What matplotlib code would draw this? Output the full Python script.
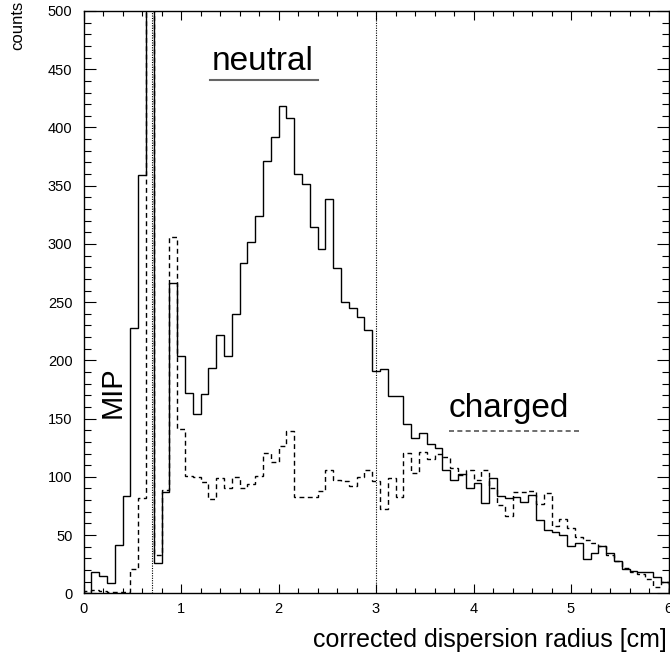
import numpy as np
import matplotlib
matplotlib.use("Agg")
import matplotlib.pyplot as plt
from matplotlib.ticker import MultipleLocator

plt.rcParams['font.family'] = ['Liberation Sans', 'DejaVu Sans']

# bin edges: 75 bins of width 0.08 cm from 0 to 6
bin_edges = np.linspace(0.0, 6.0, 76)

# neutral (solid) counts per bin
neutral = [
    0, 18.6, 14.8, 9.1, 41.5, 83.8, 227.5, 359, 1500, 25.7,
    86.7, 266.7, 203.8, 172.3, 153.7, 170.9, 193.7, 221.5, 203.8, 240.1,
    283.9, 301.6, 323.7, 371, 391.8, 418.4, 407.9, 359.8, 351.8, 314.5,
    295.9, 338.3, 279.6, 250, 244.7, 237, 226, 190.6, 192.6, 169.4,
    169.4, 145.4, 133.6, 137.4, 127.9, 124.5, 105.6, 97.6, 102.2, 90.1,
    94.4, 77.3, 98.7, 83.5, 81.5, 83, 78.4, 84.4, 62.9, 54,
    52.9, 50.3, 40.6, 42.9, 29.2, 34.3, 40.6, 34.3, 27.5, 21,
    19.4, 18.6, 18.6, 14.3, 9.3,
]

# charged (dashed) counts per bin
charged = [
    2, 3, 2, 1, 1, 1.4, 20.6, 81.5, 1200, 33,
    89, 305.7, 140.8, 101, 99.7, 95.9, 80.7, 98.7, 90.1, 100.2,
    90.1, 93.9, 101, 120.8, 112.5, 126.7, 139.6, 82.4, 82.4, 82.4,
    87.5, 105.9, 97.6, 96, 92, 100, 106, 96, 72, 98.7,
    82.7, 120.8, 103, 121.6, 115, 120, 116.8, 107.3, 101.6, 105.9,
    97, 105.9, 90, 75.8, 66.4, 87.3, 87.3, 88, 77, 86,
    58, 63.5, 55.8, 48, 45.5, 42.9, 40.7, 33, 28, 21.5,
    18.6, 17, 12, 5.5, 10,
]

cut_lines = [0.7, 3.0]

fig = plt.figure(figsize=(6.70, 6.58), dpi=100)
ax = fig.add_axes([83.5 / 670, 1 - 593.3 / 658, (668.5 - 83.5) / 670, (593.3 - 11) / 658])

ax.stairs(neutral, bin_edges, color='black', linewidth=1.0, baseline=0)
ax.stairs(charged, bin_edges, color='black', linewidth=1.0, baseline=0,
          linestyle=(0, (3.5, 2.5)))

for xc in cut_lines:
    ax.axvline(xc, color='black', linewidth=0.8, linestyle=(0, (1, 1.2)))

ax.set_xlim(0, 6)
ax.set_ylim(0, 500)

ax.xaxis.set_major_locator(MultipleLocator(1))
ax.xaxis.set_minor_locator(MultipleLocator(0.2))
ax.yaxis.set_major_locator(MultipleLocator(50))
ax.yaxis.set_minor_locator(MultipleLocator(10))

ax.tick_params(axis='both', which='both', direction='in', top=True, right=True,
               width=0.8, labelsize=10.5)
ax.tick_params(axis='x', which='major', length=6.5, pad=6)
ax.tick_params(axis='x', which='minor', length=3.6)
ax.tick_params(axis='y', which='major', length=8.6, pad=8)
ax.tick_params(axis='y', which='minor', length=4.7)
for s in ax.spines.values():
    s.set_linewidth(1.0)

# annotations
ax.text(1.31, 449, 'neutral', fontsize=24, ha='left', va='baseline')
ax.plot([1.30, 2.40], [440.6, 440.6], color='#666666', linewidth=1.5)
ax.text(3.75, 151, 'charged', fontsize=24, ha='left', va='baseline')
ax.plot([3.75, 5.08], [139.6, 139.6], color='#555555', linewidth=1.2,
        linestyle=(0, (3, 2)))
ax.text(0.297, 173, 'MIP', fontsize=21, rotation=90, ha='center', va='center')

fig.text(667 / 670, 1 - 640 / 658, 'corrected dispersion radius [cm]',
         fontsize=18, ha='right', va='center')
fig.text(18 / 670, 1 - 1 / 658, 'counts', fontsize=12, rotation=90,
         ha='center', va='top')

fig.savefig('out.png', dpi=100)
